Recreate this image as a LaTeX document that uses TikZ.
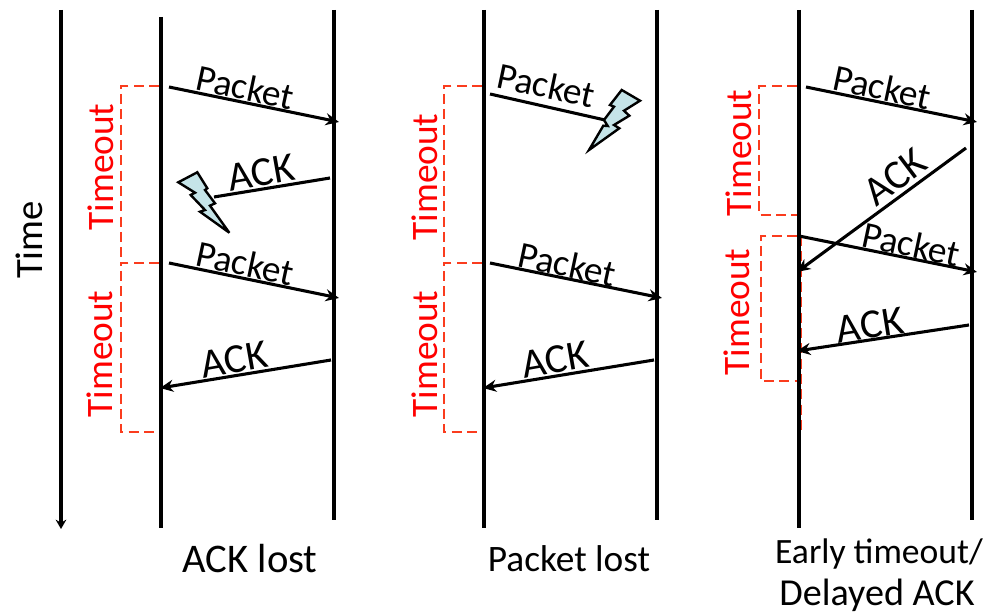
\documentclass[tikz,border=0pt]{standalone}
\usepackage{fontspec}
\setmainfont{Carlito}
\usetikzlibrary{arrows.meta}
\definecolor{tred}{RGB}{250,60,30}
\definecolor{boltfill}{RGB}{197,228,232}
\tikzset{
  x=0.75pt,y=-0.75pt,
  timeline/.style={line width=2.4pt,black},
  msg/.style={line width=2.3pt,black},
  msgarrow/.style={msg,-{Stealth[length=10pt,width=9pt]}},
  bracket/.style={line width=1.4pt,color=tred,dash pattern=on 7.5pt off 4pt},
  lbl/.style={font=\fontsize{28}{32}\selectfont,inner sep=0pt,text=black},
  acklbl/.style={font=\fontsize{31}{36}\selectfont,inner sep=0pt,text=black},
  tlbl/.style={font=\fontsize{28}{32}\selectfont,inner sep=0pt,text=red,rotate=90},
  bolt/.style={draw=black,line width=1.8pt,fill=boltfill,miter limit=6,line join=miter}
}
\begin{document}
\begin{tikzpicture}
\useasboundingbox (0,0) rectangle (987,616);
% time axis
\coordinate (ta) at (61,10); \coordinate (tb) at (61,529);
\draw[line width=2.4pt,-{Stealth[length=7pt,width=8pt]}] (ta) -- (tb);
\node[lbl,rotate=90,font=\fontsize{29}{32}\selectfont] (time) at (29,240) {Time};
% timelines
\coordinate (a1) at (161,17);  \coordinate (a2) at (161,528);
\coordinate (b1) at (334,10);  \coordinate (b2) at (334,520);
\coordinate (c1) at (484,10);  \coordinate (c2) at (484,528);
\coordinate (d1) at (657,10);  \coordinate (d2) at (657,520);
\coordinate (e1) at (799,10);  \coordinate (e2) at (799,528);
\coordinate (f1) at (972,10);  \coordinate (f2) at (972,520);
% brackets
\draw[bracket] (159,86) -- (121,86) -- (121,263);
\draw[bracket] (159,263) -- (121,263) -- (121,432) -- (159,432);
\draw[bracket] (482,86) -- (444,86) -- (444,263);
\draw[bracket] (482,263) -- (444,263) -- (444,432) -- (482,432);
\draw[bracket] (797,86) -- (759,86) -- (759,215) -- (797,215);
\draw[bracket] (797,236) -- (761,236) -- (761,381) -- (797,381);
\draw[bracket,line width=1pt] (801,236) -- (801,430);
\draw[timeline] (a1)--(a2) (b1)--(b2) (c1)--(c2) (d1)--(d2) (e1)--(e2) (f1)--(f2);
% Timeout labels
\node[tlbl] (t1) at (101,167) {Timeout};
\node[tlbl] (t2) at (100,354) {Timeout};
\node[tlbl] (t3) at (425,177) {Timeout};
\node[tlbl] (t4) at (425,354) {Timeout};
\node[tlbl] (t5) at (739,153) {Timeout};
\node[tlbl] (t6) at (737,312) {Timeout};
% panel 1
\coordinate (p1s) at (169,87);  \coordinate (p1e) at (339,122);
\coordinate (k1s) at (330,178); \coordinate (k1e) at (214,197);
\coordinate (p2s) at (169,263); \coordinate (p2e) at (339,298);
\coordinate (k2s) at (331,360); \coordinate (k2e) at (160,388);
\draw[msgarrow] (p1s) -- (p1e);
\draw[msg] (k1s) -- (k1e);
\draw[msgarrow] (p2s) -- (p2e);
\draw[msgarrow] (k2s) -- (k2e);
\node[lbl,rotate=-12] (lp1) at (245,87) {Packet};
\node[acklbl,rotate=10] (lk1) at (261,173) {ACK};
\node[lbl,rotate=-12] (lp2) at (245,263) {Packet};
\node[acklbl,rotate=10] (lk2) at (234,360) {ACK};
\draw[bolt] (178.3,182.3) -- (197.3,172.3) -- (207.3,188.3) -- (205,190) -- (215,203.3) -- (210,205.7) -- (229.3,232.7) -- (200,211.7) -- (205,210) -- (190.7,195) -- (195,192.7) -- cycle;
% panel 2
\coordinate (p3s) at (490,94);  \coordinate (p3e) at (605,120);
\coordinate (p4s) at (490,263); \coordinate (p4e) at (662,298);
\coordinate (k3s) at (654,360); \coordinate (k3e) at (483,388);
\draw[msg] (p3s) -- (p3e);
\draw[msgarrow] (p4s) -- (p4e);
\draw[msgarrow] (k3s) -- (k3e);
\node[lbl,rotate=-12] (lp3) at (546,85) {Packet};
\node[lbl,rotate=-12] (lp4) at (567,264) {Packet};
\node[acklbl,rotate=10] (lk3) at (555,360) {ACK};
\draw[bolt] (621.7,90) -- (640,100.7) -- (624,110.7) -- (629.3,115.7) -- (614,125) -- (619.3,128.3) -- (589,150) -- (603.3,125.7) -- (607.7,126) -- (604,120) -- (614,106.7) -- (610,105) -- cycle;
% panel 3
\coordinate (p5s) at (806,87);  \coordinate (p5e) at (977,122);
\coordinate (k4s) at (966,148); \coordinate (k4e) at (797,272);
\coordinate (p6s) at (799,236); \coordinate (p6e) at (977,272);
\coordinate (k5s) at (969,325); \coordinate (k5e) at (797,351);
\draw[msgarrow] (p5s) -- (p5e);
\draw[msgarrow] (k4s) -- (k4e);
\draw[msgarrow] (p6s) -- (p6e);
\draw[msgarrow] (k5s) -- (k5e);
\node[lbl,rotate=-12] (lp5) at (882,87) {Packet};
\node[acklbl,rotate=37] (lk4) at (895,177) {ACK};
\node[lbl,rotate=-12] (lp6) at (911,244) {Packet};
\node[acklbl,rotate=9] (lk5) at (870,325) {ACK};
% captions
\node[acklbl,font=\fontsize{30.5}{34}\selectfont] (c1l) at (250,559) {ACK lost};
\node[lbl] (c2l) at (569,559) {Packet lost};
\node[lbl,font=\fontsize{26.7}{30}\selectfont] (c3l) at (879,554) {Early timeout/};
\node[lbl,font=\fontsize{28.6}{32}\selectfont] (c4l) at (877,595) {Delayed ACK};
\end{tikzpicture}
\end{document}
